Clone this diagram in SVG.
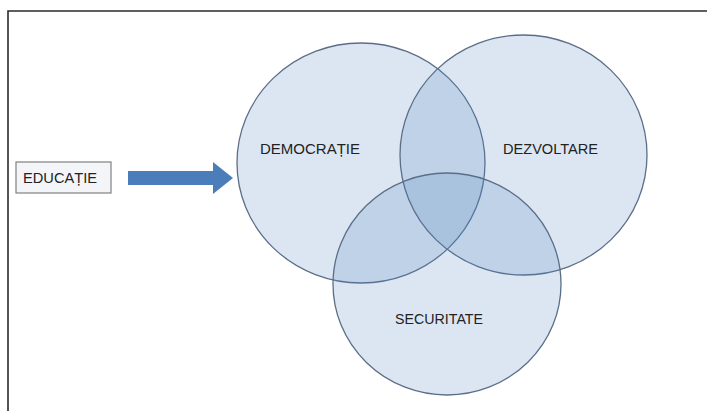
<svg xmlns="http://www.w3.org/2000/svg" width="707" height="411" viewBox="0 0 707 411">
<style>
.frame{stroke:#2b2b2b;stroke-width:1.6;fill:none}
.venn{fill:#4F81BD;fill-opacity:0.2;stroke:#5b6e88;stroke-width:1.3}
.lbl{font-family:"Liberation Sans",Arial,sans-serif;font-size:15px;fill:#222222;text-anchor:middle}
.box{fill:#f3f5f8;stroke:#808080;stroke-width:1.2}
.arrow{fill:#4a7dba}
</style>
<rect width="707" height="411" fill="#ffffff"/>
<path class="frame" d="M8,411 V11 H707"/>
<g id="educatie">
<rect class="box" x="16" y="162" width="95" height="31"/>
<text class="lbl" x="60" y="183" font-size="14" textLength="74" lengthAdjust="spacingAndGlyphs">EDUCAȚIE</text>
</g>
<g id="connectors">
<polygon class="arrow" points="128,171 213,171 213,162 233,178 213,194 213,185 128,185"/>
</g>
<g id="democratie">
<ellipse class="venn" cx="361" cy="163" rx="124" ry="120"/>
</g>
<g id="dezvoltare">
<ellipse class="venn" cx="523.5" cy="155" rx="123.5" ry="120"/>
</g>
<g id="securitate">
<ellipse class="venn" cx="447" cy="284" rx="114" ry="111"/>
</g>
<text class="lbl" x="310" y="153.5" textLength="100" lengthAdjust="spacingAndGlyphs">DEMOCRAȚIE</text>
<text class="lbl" x="550.5" y="153.5" textLength="95" lengthAdjust="spacingAndGlyphs">DEZVOLTARE</text>
<text class="lbl" x="439" y="323.5" textLength="88" lengthAdjust="spacingAndGlyphs">SECURITATE</text>
</svg>
